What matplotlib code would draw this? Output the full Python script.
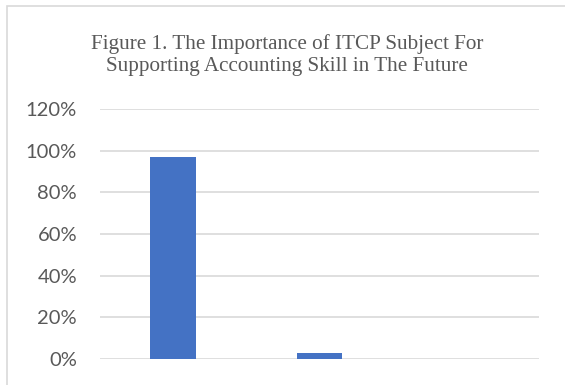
import matplotlib
matplotlib.use('Agg')
import matplotlib.pyplot as plt
from matplotlib.patches import Rectangle
from matplotlib.ticker import PercentFormatter

# Colors
BLUE = '#4472C4'
GRID = '#D9D9D9'
TEXT = '#595959'

# Data
categories = ['Important', 'Not important', 'Undecided']
values = [0.97, 0.03, 0.0]
yticks = [0, 0.2, 0.4, 0.6, 0.8, 1.0, 1.2]
title = 'Figure 1. The Importance of ITCP Subject For\nSupporting Accounting Skill in The Future'

W, H = 565, 385
fig = plt.figure(figsize=(W / 100, H / 100), dpi=100)

# chart frame (cropped at right and bottom)
fig.patches.append(Rectangle((7 / W, -0.1), 1.2, 1 - 6 / H + 0.1,
                             transform=fig.transFigure, fill=False,
                             edgecolor=GRID, linewidth=1.2))

ax = fig.add_axes([100 / W, 1 - 359 / H, 438.5 / W, 250 / H])
x = range(len(categories))
ax.bar(x, values, width=0.31, color=BLUE, zorder=3)
ax.set_xlim(-0.5, len(categories) - 0.5)
ax.set_ylim(0, 1.2)
ax.set_yticks(yticks)
ax.yaxis.set_major_formatter(PercentFormatter(1.0, decimals=0))
ax.set_xticks([])
ax.grid(True, axis='y', color=GRID, linewidth=1.2, zorder=0)
for s in ax.spines.values():
    s.set_visible(False)
ax.tick_params(axis='y', length=0, pad=16.5, labelsize=14.5, labelcolor=TEXT)
for lab in ax.get_yticklabels():
    lab.set_fontfamily('Lato')

# baseline here is the one of the last title line
fig.text(287 / W, 1 - 71 / H, title, ha='center', va='baseline',
         fontsize=15.2, family='Liberation Serif', color=TEXT,
         linespacing=1.19)

fig.savefig('out.png', dpi=100)
